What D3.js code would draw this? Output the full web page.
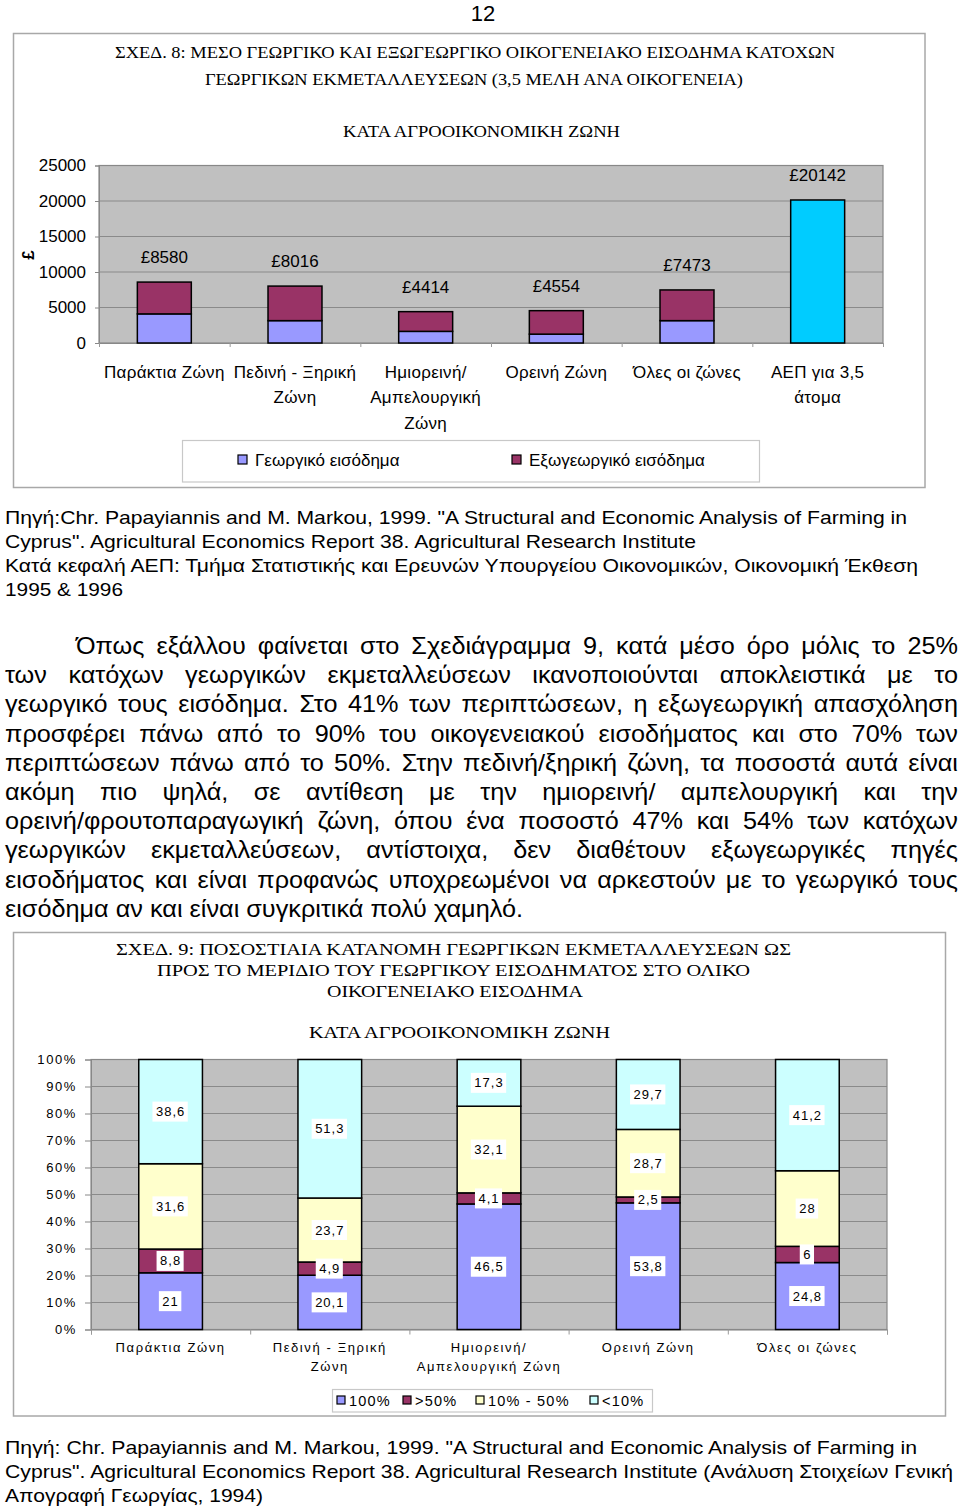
<!DOCTYPE html>
<html><head><meta charset="utf-8">
<script src="https://cdn.jsdelivr.net/npm/d3@7"></script>
<style>body{margin:0;background:#fff}svg{display:block}</style>
</head><body>
<script>
// ---------- DATA: chart 8 ----------
const zoneLines1 = [["Παράκτια Ζώνη"],["Πεδινή - Ξηρική","Ζώνη"],["Ημιορεινή/","Αμπελουργική","Ζώνη"],["Ορεινή Ζώνη"],["Όλες οι ζώνες"],["ΑΕΠ για 3,5","άτομα"]];
const farmIncome    = [4100, 3150, 1640, 1250, 3150, 0];
const offFarmIncome = [4480, 4866, 2774, 3304, 4323, 0];
const gdpPerFamily  = [0, 0, 0, 0, 0, 20142];
const totalLabels   = ["£8580","£8016","£4414","£4554","£7473","£20142"];
const yTicks1 = [0,5000,10000,15000,20000,25000];
const series1 = ["Γεωργικό εισόδημα","Εξωγεωργικό εισόδημα"];
const title1 = ["ΣΧΕΔ. 8: ΜΕΣΟ ΓΕΩΡΓΙΚΟ ΚΑΙ ΕΞΩΓΕΩΡΓΙΚΟ ΟΙΚΟΓΕΝΕΙΑΚΟ ΕΙΣΟΔΗΜΑ ΚΑΤΟΧΩΝ","ΓΕΩΡΓΙΚΩΝ ΕΚΜΕΤΑΛΛΕΥΣΕΩΝ (3,5 ΜΕΛΗ ΑΝΑ ΟΙΚΟΓΕΝΕΙΑ)","ΚΑΤΑ ΑΓΡΟΟΙΚΟΝΟΜΙΚΗ ΖΩΝΗ"];

// ---------- DATA: chart 9 ----------
const zoneLines2 = [["Παράκτια Ζώνη"],["Πεδινή - Ξηρική","Ζώνη"],["Ημιορεινή/","Αμπελουργική Ζώνη"],["Ορεινή Ζώνη"],["Όλες οι ζώνες"]];
const share100     = [21, 20.1, 46.5, 53.8, 24.8];
const shareOver50  = [8.8, 4.9, 4.1, 2.5, 6];
const share10to50  = [31.6, 23.7, 32.1, 28.7, 28];
const shareUnder10 = [38.6, 51.3, 17.3, 29.7, 41.2];
const series2 = ["100%",">50%","10% - 50%","<10%"];
const yTicks2 = [0,0.1,0.2,0.3,0.4,0.5,0.6,0.7,0.8,0.9,1];
const title2 = ["ΣΧΕΔ. 9: ΠΟΣΟΣΤΙΑΙΑ ΚΑΤΑΝΟΜΗ ΓΕΩΡΓΙΚΩΝ ΕΚΜΕΤΑΛΛΕΥΣΕΩΝ ΩΣ","ΠΡΟΣ ΤΟ ΜΕΡΙΔΙΟ ΤΟΥ ΓΕΩΡΓΙΚΟΥ ΕΙΣΟΔΗΜΑΤΟΣ ΣΤΟ ΟΛΙΚΟ","ΟΙΚΟΓΕΝΕΙΑΚΟ ΕΙΣΟΔΗΜΑ","ΚΑΤΑ ΑΓΡΟΟΙΚΟΝΟΜΙΚΗ ΖΩΝΗ"];

// ---------- TEXT ----------
const source1 = ["Πηγή:Chr. Papayiannis and M. Markou, 1999. \"A Structural and Economic Analysis of Farming in","Cyprus\". Agricultural Economics Report 38. Agricultural Research Institute","Κατά κεφαλή ΑΕΠ: Τμήμα Στατιστικής και Ερευνών Υπουργείου Οικονομικών, Οικονομική Έκθεση","1995 & 1996"];
const paragraph = ["Όπως εξάλλου φαίνεται στο Σχεδιάγραμμα 9, κατά μέσο όρο μόλις το 25%","των κατόχων γεωργικών εκμεταλλεύσεων ικανοποιούνται αποκλειστικά με το","γεωργικό τους εισόδημα. Στο 41% των περιπτώσεων, η εξωγεωργική απασχόληση","προσφέρει πάνω από το 90% του οικογενειακού εισοδήματος και στο 70% των","περιπτώσεων πάνω από το 50%. Στην πεδινή/ξηρική ζώνη, τα ποσοστά αυτά είναι","ακόμη πιο ψηλά, σε αντίθεση με την ημιορεινή/ αμπελουργική και την","ορεινή/φρουτοπαραγωγική ζώνη, όπου ένα ποσοστό 47% και 54% των κατόχων","γεωργικών εκμεταλλεύσεων, αντίστοιχα, δεν διαθέτουν εξωγεωργικές πηγές","εισοδήματος και είναι προφανώς υποχρεωμένοι να αρκεστούν με το γεωργικό τους","εισόδημα αν και είναι συγκριτικά πολύ χαμηλό."];
const source2 = ["Πηγή:  Chr. Papayiannis and M. Markou, 1999. \"A Structural and Economic Analysis of Farming in","Cyprus\". Agricultural Economics Report 38. Agricultural Research Institute (Ανάλυση Στοιχείων Γενική","Απογραφή Γεωργίας, 1994)"];

// ---------- helpers ----------
const SANS = "'Liberation Sans', Arial, sans-serif";
const SERIF = "'Liberation Serif', 'Times New Roman', serif";
const svg = d3.select("body").append("svg").attr("width",960).attr("height",1507)
  .style("font-family",SANS);

function fitText(g, str, x, y, w, size, family){
  return g.append("text").attr("x",x).attr("y",y).attr("font-size",size)
    .attr("font-family",family).attr("textLength",w).attr("lengthAdjust","spacingAndGlyphs").text(str);
}

svg.append("text").attr("x",483).attr("y",20.5).attr("text-anchor","middle").attr("font-size",22).text("12");

// =============== CHART 8 ===============
const g1 = svg.append("g");
g1.append("rect").attr("x",13.5).attr("y",33.5).attr("width",911.5).attr("height",454)
  .attr("fill","#fff").attr("stroke","#a8a8a8").attr("stroke-width",1.5);
const t1pos = [[115,58,720],[205,85,538],[343,137,277]];
title1.forEach((t,i)=>fitText(g1,t,t1pos[i][0],t1pos[i][1],t1pos[i][2],17,SERIF));

const x1 = d3.scaleBand().domain(d3.range(zoneLines1.length)).range([99,883]).paddingInner(0.587).paddingOuter(0.2935);
const xb1 = d3.scaleLinear().domain([0,zoneLines1.length]).range([99,883]);
const y1 = d3.scaleLinear().domain([0,25000]).range([343,165.5]);

g1.append("rect").attr("x",99).attr("y",y1(25000)).attr("width",784).attr("height",y1(0)-y1(25000)).attr("fill","#c0c0c0");
g1.append("g").selectAll("line").data(yTicks1.slice(1)).join("line")
  .attr("x1",99).attr("x2",883).attr("y1",d=>y1(d)).attr("y2",d=>y1(d)).attr("stroke","#8a8a8a").attr("stroke-width",1);
g1.append("rect").attr("x",99).attr("y",y1(25000)).attr("width",784).attr("height",y1(0)-y1(25000))
  .attr("fill","none").attr("stroke","#888").attr("stroke-width",1.2);

const ax1 = g1.append("g").attr("transform","translate(99,0)")
  .call(d3.axisLeft(y1).tickValues(yTicks1).tickSize(4).tickPadding(9).tickFormat(d3.format("d")));
ax1.select(".domain").attr("stroke","#888");
ax1.selectAll(".tick line").attr("stroke","#888");
ax1.selectAll("text").attr("font-size",17).attr("font-family",SANS).attr("fill","#000");

const bx1 = g1.append("g").attr("transform","translate(0,343)")
  .call(d3.axisBottom(xb1).tickValues(d3.range(zoneLines1.length+1)).tickSize(4).tickFormat(""));
bx1.select(".domain").attr("stroke","#888");
bx1.selectAll(".tick line").attr("stroke","#999");

g1.append("text").attr("transform","translate(34,255) rotate(-90)").attr("text-anchor","middle")
  .attr("font-size",17).attr("font-weight","bold").text("£");

const rows1 = farmIncome.map((f,i)=>({i, farm:f, off:offFarmIncome[i], gdp:gdpPerFamily[i]}));
const stack1 = d3.stack().keys(["farm","off","gdp"])(rows1);
const col1 = {farm:"#9999ff", off:"#993366", gdp:"#00ccff"};
stack1.forEach(s=>{
  g1.append("g").selectAll("rect").data(s.filter(d=>d[1]-d[0]>0)).join("rect")
    .attr("x",d=>x1(d.data.i)).attr("width",x1.bandwidth())
    .attr("y",d=>y1(d[1])).attr("height",d=>y1(d[0])-y1(d[1]))
    .attr("fill",col1[s.key]).attr("stroke","#000").attr("stroke-width",1.5);
});
g1.append("g").selectAll("text").data(rows1).join("text")
  .attr("x",d=>x1(d.i)+x1.bandwidth()/2).attr("y",d=>y1(d.farm+d.off+d.gdp)-19)
  .attr("text-anchor","middle").attr("font-size",17).text(d=>totalLabels[d.i]);

const cl1 = g1.append("g").selectAll("text").data(zoneLines1).join("text")
  .attr("text-anchor","middle").attr("font-size",17).attr("letter-spacing",0.3);
cl1.each(function(lines,i){
  d3.select(this).selectAll("tspan").data(lines).join("tspan")
    .attr("x",x1(i)+x1.bandwidth()/2).attr("y",(d,j)=>377.5+j*25.5).text(d=>d);
});

// legend 1
g1.append("rect").attr("x",182.5).attr("y",440.5).attr("width",577).attr("height",41.5)
  .attr("fill","#fff").attr("stroke","#c8c8c8").attr("stroke-width",1.2);
const leg1x = [238,512];
series1.forEach((s,i)=>{
  g1.append("rect").attr("x",leg1x[i]).attr("y",455).attr("width",9).attr("height",9)
    .attr("fill",[col1.farm,col1.off][i]).attr("stroke","#000").attr("stroke-width",1.2);
  g1.append("text").attr("x",leg1x[i]+17).attr("y",465.5).attr("font-size",17).text(s);
});

// =============== source + paragraph ===============
const srcW1 = [902,691,913,118];
source1.forEach((t,i)=>fitText(svg,t,5,524+i*23.9,srcW1[i],19,SANS));

const pg = svg.append("g").attr("font-size",23).attr("font-family",SANS);
function wordNodes(str){
  const words = str.split(" ");
  const nodes = words.map(w=>pg.append("text").text(w));
  const widths = nodes.map(n=>n.node().getComputedTextLength());
  return {nodes,widths};
}
const lastProbe = wordNodes(paragraph[paragraph.length-1]);
const natLast = d3.sum(lastProbe.widths) + 23*0.278*(lastProbe.widths.length-1);
const kx = 518/natLast;
lastProbe.nodes.forEach(n=>n.remove());
paragraph.forEach((line,li)=>{
  const y = 654 + li*29.2;
  const x0 = li===0 ? 76 : 5;
  const xEnd = 958;
  const wn = wordNodes(line);
  const total = d3.sum(wn.widths)*kx;
  const isLast = li===paragraph.length-1;
  const gap = isLast ? 23*0.278*kx : (xEnd-x0-total)/(wn.nodes.length-1);
  let x = x0;
  wn.nodes.forEach((n,i)=>{
    n.attr("transform",`translate(${x},${y}) scale(${kx},1)`);
    x += wn.widths[i]*kx + gap;
  });
});

// =============== CHART 9 ===============
const g2 = svg.append("g");
g2.append("rect").attr("x",13.5).attr("y",932.5).attr("width",932).attr("height",483.5)
  .attr("fill","#fff").attr("stroke","#a8a8a8").attr("stroke-width",1.5);
const t2pos = [[116,955,675],[157,976,593],[327,997,256],[309,1038,301]];
title2.forEach((t,i)=>fitText(g2,t,t2pos[i][0],t2pos[i][1],t2pos[i][2],16.5,SERIF));

const x2 = d3.scaleBand().domain(d3.range(zoneLines2.length)).range([91,887]).paddingInner(0.6).paddingOuter(0.3);
const xb2 = d3.scaleLinear().domain([0,zoneLines2.length]).range([91,887]);
const y2 = d3.scaleLinear().domain([0,1]).range([1329.5,1059.5]);

g2.append("rect").attr("x",91).attr("y",y2(1)).attr("width",796).attr("height",y2(0)-y2(1)).attr("fill","#c0c0c0");
g2.append("g").selectAll("line").data(yTicks2.slice(1)).join("line")
  .attr("x1",91).attr("x2",887).attr("y1",d=>y2(d)).attr("y2",d=>y2(d)).attr("stroke","#8a8a8a").attr("stroke-width",1);
g2.append("rect").attr("x",91).attr("y",y2(1)).attr("width",796).attr("height",y2(0)-y2(1))
  .attr("fill","none").attr("stroke","#888").attr("stroke-width",1.2);

const ax2 = g2.append("g").attr("transform","translate(91,0)")
  .call(d3.axisLeft(y2).tickValues(yTicks2).tickSize(6).tickPadding(8).tickFormat(d3.format(".0%")));
ax2.select(".domain").attr("stroke","#888");
ax2.selectAll(".tick line").attr("stroke","#888");
ax2.selectAll("text").attr("font-size",13).attr("font-family",SANS).attr("letter-spacing",1.6).attr("fill","#000");

const bx2 = g2.append("g").attr("transform","translate(0,1329.5)")
  .call(d3.axisBottom(xb2).tickValues(d3.range(zoneLines2.length+1)).tickSize(5).tickFormat(""));
bx2.select(".domain").attr("stroke","#888");
bx2.selectAll(".tick line").attr("stroke","#999");

const keys2 = ["a","b","c","d"];
const rows2 = share100.map((v,i)=>({i, a:v, b:shareOver50[i], c:share10to50[i], d:shareUnder10[i]}));
const stack2 = d3.stack().keys(keys2).offset(d3.stackOffsetExpand)(rows2);
const col2 = {a:"#9999ff", b:"#993366", c:"#ffffcc", d:"#ccffff"};
stack2.forEach(s=>{
  g2.append("g").selectAll("rect").data(s).join("rect")
    .attr("x",d=>x2(d.data.i)).attr("width",x2.bandwidth())
    .attr("y",d=>y2(d[1])).attr("height",d=>y2(d[0])-y2(d[1]))
    .attr("fill",col2[s.key]).attr("stroke","#000").attr("stroke-width",1.5);
});
const fmt2 = v=>String(v).replace(".",",");
stack2.forEach(s=>{
  s.forEach(d=>{
    const cx = x2(d.data.i)+x2.bandwidth()/2;
    const cy = (y2(d[0])+y2(d[1]))/2;
    const lg = g2.append("g");
    const tx = lg.append("text").attr("x",cx).attr("y",cy+4.5).attr("text-anchor","middle")
      .attr("font-size",13).attr("letter-spacing",1).text(fmt2(d.data[s.key]));
    const w = tx.node().getComputedTextLength();
    lg.insert("rect","text").attr("x",cx-w/2-3.5).attr("y",cy-10).attr("width",w+6).attr("height",20).attr("fill","#fff");
  });
});

const cl2 = g2.append("g").selectAll("text").data(zoneLines2).join("text")
  .attr("text-anchor","middle").attr("font-size",13).attr("letter-spacing",1.6);
cl2.each(function(lines,i){
  d3.select(this).selectAll("tspan").data(lines).join("tspan")
    .attr("x",x2(i)+x2.bandwidth()/2).attr("y",(d,j)=>1352+j*18.5).text(d=>d);
});

// legend 2
g2.append("rect").attr("x",332.5).attr("y",1389.5).attr("width",320).attr("height",22.5)
  .attr("fill","#fff").attr("stroke","#c8c8c8").attr("stroke-width",1.2);
const leg2x = [337,403,476,590];
series2.forEach((s,i)=>{
  g2.append("rect").attr("x",leg2x[i]).attr("y",1396).attr("width",8).attr("height",8)
    .attr("fill",col2[keys2[i]]).attr("stroke","#000").attr("stroke-width",1.2);
  g2.append("text").attr("x",leg2x[i]+12).attr("y",1405.5).attr("font-size",14.5).attr("letter-spacing",1.2).text(s);
});

const srcW2 = [912,948,258];
source2.forEach((t,i)=>fitText(svg,t,5,1454+i*24,srcW2[i],19,SANS));
</script>
</body></html>
